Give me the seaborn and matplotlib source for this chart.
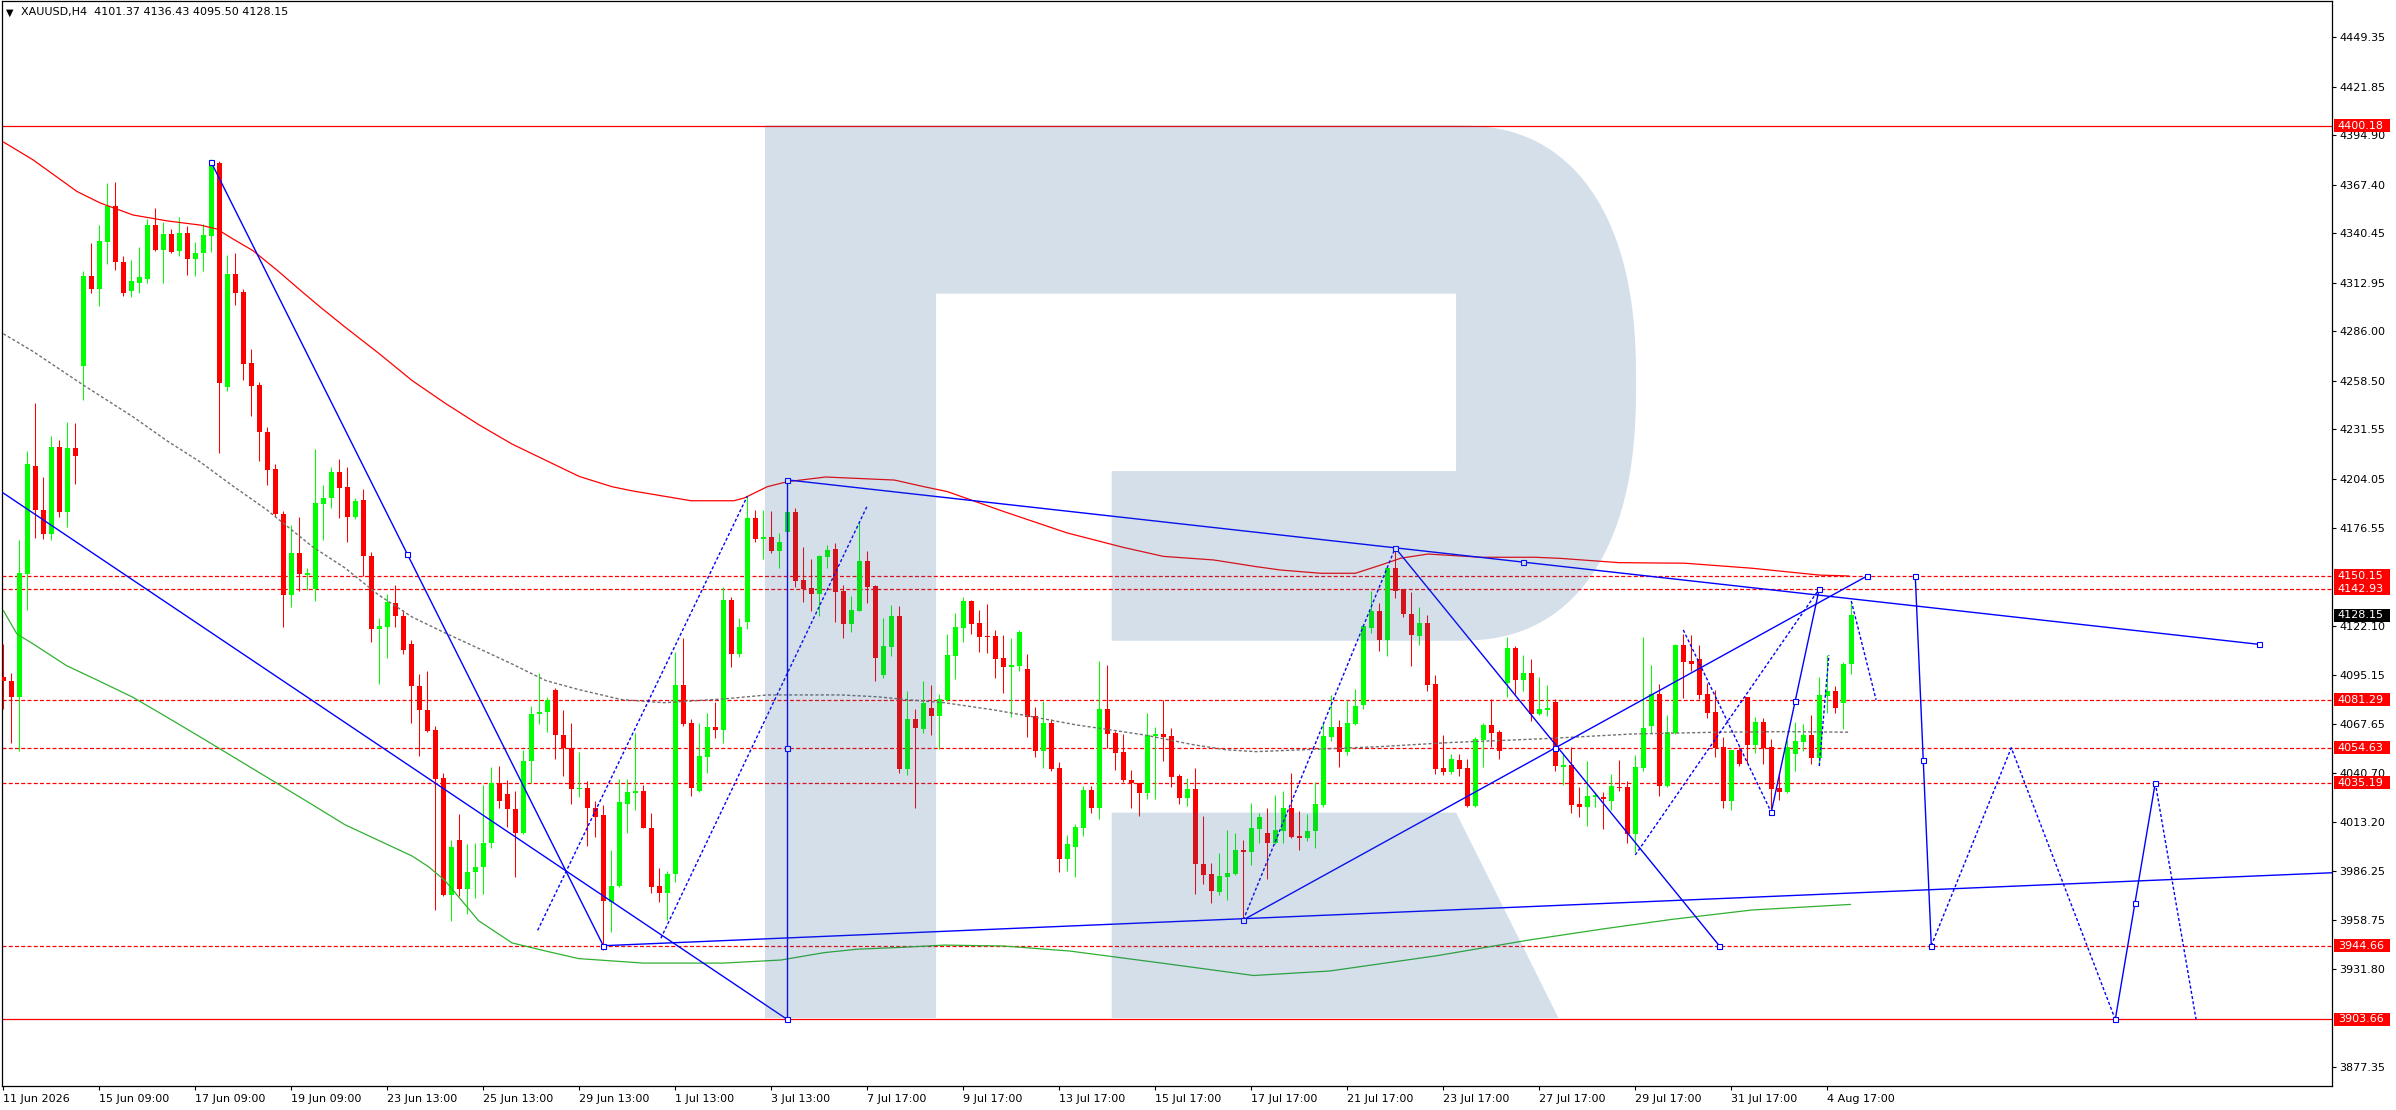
import numpy as np
import pandas as pd
import matplotlib
matplotlib.use('Agg')
import matplotlib.pyplot as plt
import matplotlib.transforms as mtransforms
from matplotlib.patches import Polygon, Rectangle
import seaborn as sns

# ---- candles (XAUUSD H4), one value per bar ----
opens = [
    4094.1, 4091.9, 4083.1, 4151.4, 4211.2, 4186.6, 4173.2, 4222.0, 4185.9, 4221.1,
    4266.8, 4316.6, 4309.6, 4335.9, 4355.5, 4324.3, 4308.5, 4312.9, 4315.1, 4345.2,
    4331.3, 4340.1, 4330.9, 4340.8, 4326.1, 4329.4, 4339.2, 4379.6, 4255.1, 4317.7,
    4308.1, 4268.3, 4256.2, 4230.3, 4209.6, 4184.8, 4139.4, 4162.9, 4150.8, 4142.7,
    4190.3, 4193.7, 4207.9, 4199.7, 4182.6, 4192.2, 4161.2, 4120.8, 4122.0, 4135.2,
    4128.0, 4112.4, 4088.8, 4075.6, 4064.5, 4037.9, 3972.7, 4003.2, 3976.4, 3985.8,
    3988.3, 4002.0, 4035.0, 4029.0, 4020.6, 4007.4, 4047.4, 4073.2, 4074.4, 4086.8,
    4061.5, 4054.6, 4031.5, 4032.2, 4021.1, 4017.4, 3969.2, 3977.9, 4023.6, 4029.3,
    4030.6, 4010.3, 3978.0, 3973.8, 3984.3, 4089.5, 4068.2, 4030.8, 4049.7, 4066.2,
    4064.7, 4136.8, 4106.6, 4124.7, 4182.2, 4170.9, 4171.8, 4164.2, 4174.7, 4185.5,
    4147.9, 4143.4, 4140.3, 4160.9, 4165.1, 4141.8, 4123.6, 4130.8, 4158.4, 4144.5,
    4095.3, 4110.8, 4127.9, 4043.0, 4070.6, 4065.3, 4076.8, 4072.5, 4081.2, 4105.8,
    4121.4, 4136.2, 4124.0, 4116.8, 4116.8, 4104.5, 4099.7, 4100.1, 4098.4, 4072.3,
    4053.0, 4068.4, 4043.4, 3993.0, 3999.7, 4010.3, 4031.2, 4021.4, 4076.2, 4062.9,
    4052.3, 4036.7, 4035.1, 4029.7, 4061.4, 4062.3, 4061.2, 4039.0, 4026.9, 4031.7,
    3990.1, 3984.5, 3974.7, 3983.0, 3984.7, 3997.9, 3996.9, 4009.5, 4007.1, 4001.9,
    4008.6, 4021.0, 4005.6, 4004.7, 4008.4, 4022.9, 4060.8, 4066.0, 4052.5, 4068.1,
    4078.4, 4121.4, 4130.7, 4114.5, 4154.6, 4142.7, 4129.0, 4116.9, 4124.0, 4090.1,
    4043.4, 4041.2, 4047.9, 4043.4, 4022.3, 4058.9, 4067.1, 4063.4, 4090.7, 4110.1,
    4092.3, 4096.0, 4073.4, 4075.8, 4080.1, 4044.2, 4044.9, 4023.4, 4021.9, 4027.5,
    4027.1, 4025.3, 4032.7, 4032.9, 4006.7, 4043.6, 4066.9, 4084.5, 4033.4, 4062.7,
    4111.8, 4102.9, 4104.0, 4084.5, 4074.3, 4054.9, 4025.3, 4053.4, 4082.9, 4056.2,
    4069.0, 4054.9, 4032.3, 4030.3, 4051.4, 4058.1, 4061.8, 4049.2, 4083.6, 4086.2,
    4079.4, 4101.37,
]
highs = [
    4112.4, 4096.3, 4170.1, 4219.3, 4246.3, 4205.0, 4228.1, 4225.5, 4235.8, 4235.1,
    4319.5, 4335.3, 4345.2, 4368.7, 4369.3, 4328.0, 4325.8, 4333.1, 4348.5, 4354.6,
    4346.9, 4343.0, 4349.6, 4344.7, 4335.7, 4345.6, 4381.9, 4380.5, 4328.3, 4329.4,
    4309.6, 4276.0, 4258.0, 4232.7, 4212.3, 4186.4, 4178.2, 4183.1, 4154.5, 4220.6,
    4200.4, 4210.4, 4215.1, 4210.6, 4193.5, 4198.4, 4163.2, 4126.8, 4140.1, 4145.1,
    4131.2, 4114.8, 4095.7, 4097.5, 4067.0, 4040.9, 4003.2, 4018.1, 4001.2, 4002.0,
    4034.2, 4044.1, 4044.6, 4036.7, 4030.5, 4053.6, 4078.1, 4096.2, 4082.6, 4087.6,
    4075.9, 4068.5, 4052.3, 4036.0, 4024.8, 4023.1, 3997.8, 4037.4, 4037.2, 4062.7,
    4034.0, 4018.6, 3987.7, 3986.4, 4108.1, 4115.5, 4070.6, 4068.6, 4074.2, 4080.3,
    4144.0, 4138.3, 4127.0, 4194.7, 4186.6, 4186.6, 4186.2, 4174.2, 4185.5, 4187.7,
    4166.0, 4159.6, 4161.8, 4167.3, 4168.6, 4144.9, 4139.0, 4179.9, 4164.0, 4144.9,
    4127.0, 4134.0, 4133.4, 4086.4, 4076.0, 4091.8, 4089.5, 4084.5, 4117.9, 4129.7,
    4138.6, 4136.5, 4131.2, 4134.6, 4120.1, 4117.3, 4115.7, 4120.1, 4106.8, 4077.5,
    4080.6, 4070.5, 4046.8, 4006.2, 4012.3, 4033.6, 4033.4, 4102.9, 4100.7, 4064.0,
    4062.3, 4042.3, 4035.2, 4073.8, 4066.4, 4081.2, 4065.5, 4040.1, 4037.7, 4043.4,
    4016.7, 3990.4, 3996.0, 4009.0, 4007.1, 4003.4, 4023.8, 4018.2, 4021.0, 4028.2,
    4030.6, 4040.5, 4019.5, 4017.7, 4035.5, 4067.9, 4084.0, 4070.1, 4081.2, 4087.3,
    4122.5, 4142.0, 4134.9, 4154.8, 4165.7, 4142.9, 4141.2, 4132.7, 4128.3, 4095.1,
    4061.8, 4051.2, 4051.2, 4048.4, 4060.5, 4068.6, 4081.8, 4064.5, 4116.0, 4111.2,
    4106.2, 4103.8, 4093.8, 4089.5, 4081.8, 4051.6, 4054.9, 4032.7, 4047.3, 4030.3,
    4030.3, 4040.1, 4047.9, 4036.4, 4050.6, 4116.0, 4100.7, 4090.1, 4072.9, 4112.1,
    4117.9, 4117.3, 4111.6, 4090.5, 4086.8, 4060.8, 4053.6, 4054.9, 4083.1, 4071.6,
    4071.0, 4059.3, 4040.8, 4059.0, 4069.2, 4067.9, 4073.1, 4094.2, 4106.2, 4089.0,
    4102.5, 4136.43,
]
lows = [
    4076.1, 4057.4, 4053.1, 4131.0, 4171.0, 4170.6, 4169.9, 4182.6, 4177.1, 4201.3,
    4248.1, 4307.2, 4300.1, 4323.6, 4319.9, 4305.6, 4305.2, 4307.2, 4312.9, 4330.5,
    4312.7, 4329.4, 4328.0, 4317.1, 4316.6, 4319.3, 4330.2, 4218.4, 4252.9, 4300.8,
    4258.9, 4239.1, 4213.8, 4200.9, 4183.7, 4121.6, 4132.6, 4141.6, 4142.4, 4136.3,
    4170.2, 4188.0, 4182.3, 4168.9, 4181.8, 4150.1, 4113.6, 4090.0, 4104.4, 4121.8,
    4106.9, 4068.2, 4049.8, 4063.2, 3964.3, 3972.2, 3958.5, 3972.2, 3962.3, 3971.0,
    3973.4, 3998.7, 4021.1, 4010.6, 3982.6, 4006.9, 4035.0, 4067.7, 4063.5, 4048.4,
    4039.2, 4023.6, 4027.3, 4000.0, 4004.9, 3942.4, 3952.4, 3977.2, 4007.4, 4020.1,
    4009.9, 3973.8, 3969.1, 3959.0, 3980.3, 4066.8, 4028.0, 4030.3, 4040.8, 4059.9,
    4057.1, 4099.7, 4105.3, 4120.7, 4168.8, 4159.6, 4163.1, 4154.7, 4174.7, 4144.2,
    4135.8, 4130.8, 4128.1, 4154.7, 4124.7, 4115.8, 4119.2, 4130.5, 4135.3, 4091.8,
    4093.6, 4105.8, 4040.8, 4039.7, 4021.4, 4063.0, 4061.7, 4053.8, 4080.8, 4092.9,
    4113.6, 4117.9, 4108.1, 4107.5, 4093.6, 4085.3, 4071.9, 4097.5, 4060.8, 4049.7,
    4043.6, 4041.9, 3985.8, 3986.4, 3983.0, 4005.6, 4018.2, 4014.9, 4054.4, 4042.3,
    4035.8, 4021.4, 4016.9, 4026.2, 4026.2, 4047.3, 4033.0, 4023.4, 4022.3, 3973.2,
    3979.0, 3968.6, 3972.8, 3970.1, 3984.0, 3959.0, 3989.5, 4001.9, 3981.7, 4001.2,
    4001.9, 4004.3, 3997.9, 4003.0, 3999.2, 4021.6, 4058.6, 4044.2, 4050.6, 4067.3,
    4076.4, 4118.6, 4108.4, 4105.7, 4138.1, 4127.5, 4100.3, 4111.8, 4086.2, 4040.1,
    4039.5, 4040.1, 4039.0, 4021.6, 4022.0, 4044.2, 4055.3, 4048.4, 4083.1, 4084.4,
    4086.4, 4069.5, 4072.9, 4072.5, 4041.9, 4034.0, 4018.6, 4016.4, 4011.4, 4021.9,
    4009.3, 4020.1, 4030.6, 4001.6, 3996.9, 4041.9, 4062.7, 4027.9, 4033.0, 4062.1,
    4082.5, 4097.5, 4081.6, 4071.0, 4049.7, 4021.4, 4020.1, 4044.5, 4046.0, 4051.9,
    4045.6, 4020.4, 4025.6, 4029.3, 4041.9, 4053.0, 4045.6, 4046.4, 4074.2, 4074.2,
    4064.9, 4095.50,
]
closes = [
    4091.5, 4083.1, 4151.9, 4212.3, 4186.6, 4173.2, 4222.0, 4185.9, 4221.1, 4216.7,
    4316.6, 4309.6, 4336.4, 4355.5, 4324.3, 4307.4, 4313.8, 4316.0, 4345.2, 4331.3,
    4340.1, 4330.0, 4340.8, 4326.1, 4329.6, 4339.7, 4379.9, 4257.3, 4317.7, 4307.6,
    4268.1, 4255.8, 4229.9, 4209.0, 4184.4, 4139.4, 4162.9, 4151.2, 4151.7, 4190.8,
    4193.7, 4207.9, 4199.2, 4182.6, 4191.5, 4161.2, 4120.8, 4122.3, 4135.7, 4127.7,
    4109.1, 4088.8, 4075.6, 4064.0, 4037.4, 3972.7, 3999.5, 3976.4, 3985.8, 3988.3,
    4002.0, 4035.0, 4025.0, 4020.6, 4007.4, 4047.4, 4073.4, 4074.7, 4081.1, 4061.5,
    4054.6, 4031.7, 4032.5, 4021.1, 4016.4, 3969.7, 3977.9, 4024.3, 4029.8, 4030.6,
    4010.3, 3977.5, 3973.8, 3984.5, 4089.5, 4067.9, 4032.1, 4050.1, 4066.2, 4064.7,
    4136.8, 4106.6, 4121.8, 4182.2, 4170.7, 4171.6, 4164.2, 4169.0, 4185.5, 4147.5,
    4142.9, 4140.3, 4161.2, 4164.6, 4141.4, 4123.6, 4131.2, 4158.4, 4144.2, 4104.7,
    4111.2, 4127.9, 4043.0, 4070.6, 4065.5, 4079.5, 4072.3, 4081.8, 4106.2, 4121.8,
    4136.2, 4123.6, 4116.4, 4116.0, 4104.2, 4099.7, 4100.5, 4119.0, 4071.9, 4053.0,
    4068.4, 4042.9, 3993.0, 4001.0, 4010.6, 4031.2, 4021.4, 4076.2, 4062.5, 4051.9,
    4036.9, 4034.9, 4029.7, 4061.8, 4062.3, 4060.8, 4038.6, 4026.9, 4031.7, 3989.9,
    3984.1, 3975.3, 3983.4, 3985.1, 3997.9, 3996.9, 4009.9, 4016.0, 4001.9, 4009.0,
    4021.0, 4005.3, 4004.7, 4008.4, 4023.2, 4061.2, 4066.0, 4052.5, 4068.4, 4077.9,
    4122.3, 4130.7, 4114.5, 4154.6, 4142.0, 4129.0, 4117.3, 4124.0, 4089.5, 4043.1,
    4041.2, 4048.4, 4042.9, 4022.3, 4059.3, 4067.1, 4063.0, 4053.1, 4110.1, 4092.5,
    4096.0, 4073.4, 4076.0, 4076.8, 4044.7, 4044.9, 4022.9, 4021.9, 4027.9, 4028.0,
    4026.0, 4033.4, 4032.1, 4006.7, 4043.8, 4065.6, 4084.4, 4033.4, 4063.2, 4111.8,
    4102.5, 4101.4, 4084.0, 4074.2, 4054.3, 4025.3, 4053.4, 4045.6, 4056.2, 4069.0,
    4054.3, 4031.9, 4030.3, 4054.9, 4058.4, 4061.8, 4049.2, 4084.0, 4086.2, 4076.6,
    4101.2, 4128.15,
]

# ---- moving averages (bar index, price) ----
ma_red_bar = [0, 3.7, 9.2, 12.1, 16.2, 20.5, 24.6, 26.7, 28.7, 31.2, 34.2, 37.1, 39.6,
              42.7, 47.0, 51.1, 55.2, 59.5, 63.6, 67.7, 72.0, 76.1, 78.6, 81.7, 86.0,
              91.3, 92.6, 95.5, 98.0, 102.8, 111.4, 115.1, 118, 125, 133, 140, 145,
              151.3, 156.6, 159.7, 164.7, 169.0, 172.2, 174.7, 178.1, 184.7, 191.5,
              194.6, 202.0, 210.2, 218.6, 227.0, 230.7]
ma_red_val = [4391.3, 4381.4, 4363.8, 4357.4, 4350.7, 4347.4, 4345.1, 4342.9, 4337.4,
              4330.9, 4320.1, 4309.0, 4299.6, 4288.5, 4273.6, 4258.7, 4246.2, 4234.0,
              4223.4, 4214.6, 4205.4, 4199.7, 4197.4, 4195.1, 4191.9, 4191.9, 4193.4,
              4199.7, 4202.5, 4205.1, 4203.4, 4199.7, 4197.0, 4186.0, 4174.0, 4166.0,
              4161.0, 4159.0, 4155.3, 4153.4, 4151.6, 4151.6, 4156.2, 4160.0, 4162.3,
              4160.5, 4160.5, 4159.9, 4157.5, 4157.2, 4154.4, 4150.6, 4150.1]

ma_grey_bar = [0, 3.75, 10.0, 16.2, 20.4, 24.6, 28.7, 32.9, 38.7, 42.7, 46.9, 51.1, 55.2,
               59.4, 63.6, 67.8, 71.9, 77.3, 82.6, 90.1, 95.5, 104.7, 109.2, 113.4, 117.6,
               123.8, 128.0, 134.2, 138.4, 142.6, 148.8, 152.9, 156.6, 163.9, 172.2, 180.6,
               188.9, 193.6, 203.6, 214.4, 222.7, 230.6]
ma_grey_val = [4284.7, 4274.8, 4256.2, 4238.6, 4225.4, 4213.5, 4200.1, 4187.0, 4166.2,
               4154.6, 4139.6, 4127.3, 4118.5, 4109.9, 4101.2, 4092.0, 4087.0, 4081.4,
               4079.7, 4081.8, 4084.0, 4084.0, 4083.0, 4081.2, 4079.7, 4075.7, 4072.4,
               4067.3, 4064.6, 4061.8, 4056.3, 4053.5, 4052.5, 4053.8, 4055.3, 4057.5,
               4059.0, 4059.9, 4062.3, 4063.3, 4063.6, 4063.3]

ma_green_bar = [0, 1.7, 3.75, 7.9, 12.1, 16.2, 20.4, 24.6, 28.7, 38.6, 42.7, 46.9, 51.1,
                53.2, 55.2, 59.4, 63.6, 67.8, 71.9, 80, 90, 97.2, 102.6, 106.7, 112.6,
                117.6, 125, 133.3, 144.8, 156.3, 165.8, 179.2, 190.7, 200, 208.6, 218.6,
                230.9]
ma_green_val = [4131.0, 4117.9, 4112.3, 4100.3, 4091.5, 4082.7, 4071.8, 4060.7, 4049.7,
                4023.1, 4011.9, 4003.2, 3994.5, 3988.4, 3980.9, 3958.6, 3946.2, 3941.7,
                3937.5, 3935.0, 3935.0, 3936.7, 3940.8, 3942.7, 3943.8, 3945.0, 3944.5,
                3941.7, 3935.0, 3928.1, 3930.6, 3939.1, 3947.8, 3954.0, 3959.3, 3964.5,
                3967.6]

# ---- horizontal levels ----
levels_solid = [4400.18, 3903.66]
levels_dashed = [4150.15, 4142.93, 4081.29, 4054.63, 4035.19, 3944.66]
last_price = 4128.15

# ---- drawn objects (bar index, price) ----
trend_solid = [
    [(0, 4196.2), (98, 3903.66)],
    [(26, 4379.9), (75, 3944.66)],
    [(75, 3944.66), (291.1, 3985.2)],
    [(98, 3903.66), (98, 4203.5)],
    [(98, 4203.5), (282.0, 4112.1)],
    [(174, 4165.7), (214.5, 3944.66)],
    [(155, 3959.0), (233.0, 4150.15)],
    [(221, 4018.8), (227, 4142.93)],
    [(239, 4150.15), (241, 3944.66)],
    [(264, 3903.66), (269, 4035.19)],
]
trend_dotted = [
    [(66.8, 3953.2), (93.0, 4194.4)],
    [(82.2, 3948.8), (108.0, 4189.1)],
    [(155.0, 3959.0), (174.0, 4165.7)],
    [(204.0, 3995.1), (227.0, 4142.93)],
    [(210.0, 4120.1), (221.0, 4018.8)],
    [(227.0, 4044.5), (228.2, 4106.2)],
    [(231.0, 4136.2), (234.1, 4081.29)],
    [(241.0, 3944.66), (251.0, 4054.63), (264.0, 3903.66)],
    [(269.0, 4035.19), (274.1, 3903.66)],
]
anchors = [(26, 4379.9), (50.5, 4162.3), (75, 3944.66), (98, 3903.66), (98, 4054.63),
           (98, 4203.5), (155, 3959.0), (174, 4165.7), (190, 4157.8), (194, 4054.6),
           (214.5, 3944.66), (221, 4018.8), (224, 4080.5), (227, 4142.93), (233, 4150.15),
           (239, 4150.15), (240, 4047.7), (241, 3944.66), (264, 3903.66), (266.5, 3968.2),
           (269, 4035.19), (282, 4112.1)]

# ---- axis labels ----
y_ticks = [4449.35, 4421.85, 4394.90, 4367.40, 4340.45, 4312.95, 4286.00, 4258.50,
           4231.55, 4204.05, 4176.55, 4122.10, 4095.15, 4067.65, 4040.70, 4013.20,
           3986.25, 3958.75, 3931.80, 3877.35]
x_labels = ['11 Jun 2026', '15 Jun 09:00', '17 Jun 09:00', '19 Jun 09:00', '23 Jun 13:00',
            '25 Jun 13:00', '29 Jun 13:00', '1 Jul 13:00', '3 Jul 13:00', '7 Jul 17:00',
            '9 Jul 17:00', '13 Jul 17:00', '15 Jul 17:00', '17 Jul 17:00', '21 Jul 17:00',
            '23 Jul 17:00', '27 Jul 17:00', '29 Jul 17:00', '31 Jul 17:00', '4 Aug 17:00']
header = 'XAUUSD,H4  4101.37 4136.43 4095.50 4128.15'


sns.set_theme(style='white')
plt.rcParams['font.family'] = ['DejaVu Sans']
plt.rcParams['font.size'] = 8

W, H = 2396, 1110
fig = plt.figure(figsize=(W / 100, H / 100), dpi=100, facecolor='white')
ax = fig.add_axes([2 / W, 24 / H, 2330 / W, 1085 / H])
ax.set_facecolor('white')

df = pd.DataFrame({'o': opens, 'h': highs, 'l': lows, 'c': closes})
df['bar'] = np.arange(len(df))
col = np.where(df.c >= df.o, '#00ff00', '#ff0000')

# candles
ax.vlines(df.bar, df.l, df.h, colors=col, lw=0.75, zorder=3)
body = (df.c - df.o).abs().clip(lower=0.8)
ax.bar(df.bar, body, bottom=np.minimum(df.o, df.c), width=0.62, color=col,
       linewidth=0, zorder=3)

# moving averages
sns.lineplot(x=ma_red_bar, y=ma_red_val, ax=ax, color='#ff0000', lw=0.9,
             estimator=None, sort=False, zorder=4)
sns.lineplot(x=ma_green_bar, y=ma_green_val, ax=ax, color='#30b030', lw=0.9,
             estimator=None, sort=False, zorder=4)
sns.lineplot(x=ma_grey_bar, y=ma_grey_val, ax=ax, color='#707070', lw=1.0,
             linestyle=(0, (2.2, 1.6)), estimator=None, sort=False, zorder=4)

# horizontal levels
for lv in levels_solid:
    ax.axhline(lv, color='#ff0000', lw=0.9, zorder=2)
for lv in levels_dashed:
    ax.axhline(lv, color='#ff0000', lw=0.9, linestyle=(0, (3.2, 1.8)), zorder=2)

# analysis objects
for seg in trend_solid:
    xs, ys = zip(*seg)
    ax.plot(xs, ys, color='#0000ff', lw=1.0, zorder=5)
for seg in trend_dotted:
    xs, ys = zip(*seg)
    ax.plot(xs, ys, color='#0000ff', lw=1.0, linestyle=(0, (2.2, 1.6)), zorder=5)
ax_x, ax_y = zip(*anchors)
ax.plot(ax_x, ax_y, linestyle='none', marker='s', markersize=3.6,
        markerfacecolor='white', markeredgecolor='#0000ff', markeredgewidth=0.8, zorder=6)

ax.set_xlim(-0.16, 291.09)
ax.set_ylim(3866.7, 4469.6)

# watermark "R" overlay (bowl drawn as a flattened half-ellipse)
top, bot = 4400.5, 3904.5
cx, cy, ra, rb, pw = 181.6, 4257.3, 22.5, 143.2, 2.4
t = np.linspace(np.pi / 2, -np.pi / 2, 80)
arc_x = cx + ra * np.abs(np.cos(t)) ** (2 / pw)
arc_y = cy + rb * np.sign(np.sin(t)) * np.abs(np.sin(t)) ** (2 / pw)
arc = list(zip(arc_x, arc_y))
outline = [(95.2, top)] + arc + [(138.55, 4114.1), (138.55, 4208.4), (181.6, 4208.4),
                                 (181.6, 4307.0), (116.6, 4307.0), (116.6, bot), (95.2, bot)]
leg = [(138.55, 4018.6), (181.6, 4018.6), (194.4, bot), (138.55, bot)]
for poly in (outline, leg):
    ax.add_patch(Polygon(poly, closed=True, facecolor='#286096', alpha=0.2,
                         edgecolor='none', zorder=10))

# axes styling
for sp in ax.spines.values():
    sp.set_visible(True)
    sp.set_color('black')
    sp.set_linewidth(0.9)
ax.yaxis.tick_right()
ax.set_yticks(y_ticks)
ax.set_yticklabels([f'{v:.2f}' for v in y_ticks])
ax.set_xticks(np.arange(0, 12 * len(x_labels), 12))
ax.set_xticklabels(x_labels, ha='left')
ax.tick_params(axis='y', which='both', right=True, left=False, direction='out',
               length=3, width=0.8, pad=2, labelsize=8, colors='black')
ax.tick_params(axis='x', which='both', bottom=True, direction='out',
               length=3, width=0.8, pad=2.5, labelsize=8, colors='black')
ax.set_xlabel('')
ax.set_ylabel('')
ax.grid(False)

# price labels on the right scale
trans = mtransforms.blended_transform_factory(ax.transAxes, ax.transData)
bw = 56 / 2330
for lv in levels_solid + levels_dashed:
    ax.add_patch(Rectangle((1.0008, lv - 3.6), bw, 7.2, transform=trans,
                           facecolor='#ff0000', edgecolor='none', clip_on=False, zorder=20))
    ax.text(1.0025, lv, f'{lv:.2f}', transform=trans, color='white', fontsize=8,
            va='center', ha='left', clip_on=False, zorder=21)
ax.add_patch(Rectangle((1.0008, last_price - 3.6), bw, 7.2, transform=trans,
                       facecolor='black', edgecolor='none', clip_on=False, zorder=20))
ax.text(1.0025, last_price, f'{last_price:.2f}', transform=trans, color='white',
        fontsize=8, va='center', ha='left', clip_on=False, zorder=21)

# header
fig.text(6 / W, 1 - 12.5 / H, '\u25bc', fontsize=7, color='black', va='center', ha='left')
fig.text(21 / W, 1 - 12.5 / H, header, fontsize=8, color='black', va='center', ha='left')

fig.savefig('out.png', dpi=100, facecolor='white')
